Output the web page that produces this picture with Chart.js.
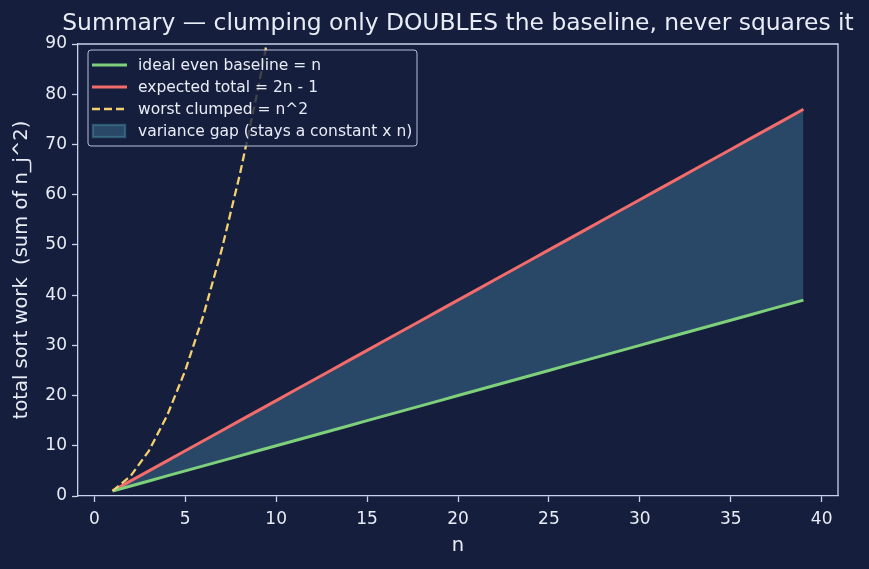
<!DOCTYPE html>
<html>
<head>
<meta charset="utf-8">
<script src="https://cdn.jsdelivr.net/npm/chart.js@4.4.1/dist/chart.umd.min.js"></script>
<style>
  html, body { margin: 0; padding: 0; background: #151f3d; }
  #wrap { width: 869px; height: 569px; }
</style>
</head>
<body>
<div id="wrap"><canvas id="chart" width="869" height="569"></canvas></div>
<script>
// data
const nValues = [1, 2, 3, 4, 5, 6, 7, 8, 9, 10, 11, 12, 13, 14, 15, 16, 17, 18, 19, 20,
  21, 22, 23, 24, 25, 26, 27, 28, 29, 30, 31, 32, 33, 34, 35, 36, 37, 38, 39];
const idealWork = [1, 2, 3, 4, 5, 6, 7, 8, 9, 10, 11, 12, 13, 14, 15, 16, 17, 18, 19, 20,
  21, 22, 23, 24, 25, 26, 27, 28, 29, 30, 31, 32, 33, 34, 35, 36, 37, 38, 39];
const expectedWork = [1, 3, 5, 7, 9, 11, 13, 15, 17, 19, 21, 23, 25, 27, 29, 31, 33, 35, 37, 39,
  41, 43, 45, 47, 49, 51, 53, 55, 57, 59, 61, 63, 65, 67, 69, 71, 73, 75, 77];
const worstN = [1, 2, 3, 4, 5, 6, 7, 8, 9, 10, 11, 12];
const worstWork = [1, 4, 9, 16, 25, 36, 49, 64, 81, 100, 121, 144];
const xTicks = [0, 5, 10, 15, 20, 25, 30, 35, 40];
const yTicks = [0, 10, 20, 30, 40, 50, 60, 70, 80, 90];

const titleText = 'Summary \u2014 clumping only DOUBLES the baseline, never squares it';
const fg = '#e8ecf6';
const spine = '#c9d2ec';
const font = 'DejaVu Sans';

const pts = (xs, ys) => xs.map((x, i) => ({ x: x, y: ys[i] }));

// title, top/right spines and the in-plot legend
const frame = {
  id: 'frame',
  afterDraw(chart) {
    const { ctx, chartArea: a } = chart;
    ctx.save();
    ctx.strokeStyle = spine;
    ctx.lineWidth = 1.3;
    ctx.beginPath();
    ctx.moveTo(a.left, a.top); ctx.lineTo(a.right, a.top); ctx.lineTo(a.right, a.bottom);
    ctx.stroke();

    ctx.fillStyle = fg;
    ctx.font = '23.4px "' + font + '"';
    ctx.textAlign = 'center';
    ctx.textBaseline = 'middle';
    ctx.fillText(titleText, (a.left + a.right) / 2, 24);

    // legend
    const lx = a.left + 10, ly = a.top + 6, lw = 329, lh = 96;
    ctx.fillStyle = 'rgba(21,31,61,0.8)';
    ctx.strokeStyle = 'rgba(200,210,236,0.9)';
    ctx.lineWidth = 1;
    ctx.beginPath();
    ctx.roundRect(lx, ly, lw, lh, 3);
    ctx.fill(); ctx.stroke();

    const ds = chart.data.datasets;
    const order = [0, 1, 2, 3];
    ctx.font = '15.5px "' + font + '"';
    ctx.textAlign = 'left';
    order.forEach((di, row) => {
      const d = ds[di];
      const y = ly + 15 + row * 22;
      if (di === 3) {
        ctx.fillStyle = d.backgroundColor;
        ctx.strokeStyle = 'rgba(70,140,160,0.5)';
        ctx.fillRect(lx + 5, y - 6, 32, 12);
        ctx.strokeRect(lx + 5, y - 6, 32, 12);
      } else {
        ctx.strokeStyle = d.borderColor;
        ctx.lineWidth = d.borderDash ? 2.4 : 3;
        ctx.setLineDash(d.borderDash || []);
        ctx.beginPath();
        ctx.moveTo(lx + 4, y); ctx.lineTo(lx + 39, y);
        ctx.stroke();
        ctx.setLineDash([]);
      }
      ctx.fillStyle = fg;
      ctx.fillText(d.label, lx + 50, y + 1);
    });
    ctx.restore();
  }
};

new Chart(document.getElementById('chart'), {
  type: 'line',
  data: {
    datasets: [{
      label: 'ideal even baseline = n',
      data: pts(nValues, idealWork),
      borderColor: '#7fd07b',
      borderWidth: 3,
      pointRadius: 0,
      fill: false,
      order: 1
    }, {
      label: 'expected total = 2n - 1',
      data: pts(nValues, expectedWork),
      borderColor: '#f36c6c',
      borderWidth: 3,
      pointRadius: 0,
      fill: false,
      order: 1
    }, {
      label: 'worst clumped = n^2',
      data: pts(worstN, worstWork),
      borderColor: '#f4d06f',
      borderWidth: 2.3,
      borderDash: [8, 4],
      pointRadius: 0,
      fill: false,
      order: 0
    }, {
      label: 'variance gap (stays a constant x n)',
      data: pts(nValues, expectedWork),
      borderColor: 'rgba(0,0,0,0)',
      borderWidth: 0,
      backgroundColor: 'rgba(62,112,144,0.5)',
      pointRadius: 0,
      fill: 0,
      order: 2
    }]
  },
  options: {
    responsive: false,
    animation: false,
    layout: { padding: { top: 44, right: 31, left: 0, bottom: 0 } },
    plugins: {
      legend: { display: false },
      title: { display: false },
      tooltip: { enabled: false }
    },
    scales: {
      x: {
        type: 'linear',
        min: -0.9,
        max: 40.9,
        afterBuildTicks: s => { s.ticks = xTicks.map(v => ({ value: v })); },
        afterFit: s => { s.height = 73; },
        grid: { drawOnChartArea: false, color: spine, tickLength: 6, tickWidth: 1.3 },
        border: { color: spine, width: 1.3 },
        ticks: { color: fg, font: { family: font, size: 17 }, padding: 7 },
        title: { display: true, text: 'n', color: fg, font: { family: font, size: 19.5 }, padding: { top: 0, bottom: 11 } }
      },
      y: {
        min: 0,
        max: 90,
        afterBuildTicks: s => { s.ticks = yTicks.map(v => ({ value: v })); },
        afterFit: s => { s.width = 78; },
        grid: { drawOnChartArea: false, color: spine, tickLength: 6, tickWidth: 1.3 },
        border: { color: spine, width: 1.3 },
        ticks: { color: fg, font: { family: font, size: 17 }, padding: 5 },
        title: { display: true, text: 'total sort work  (sum of n_j^2)', color: fg, font: { family: font, size: 19.5 }, padding: { top: 10, bottom: 0 } }
      }
    }
  },
  plugins: [frame]
});
</script>
</body>
</html>
